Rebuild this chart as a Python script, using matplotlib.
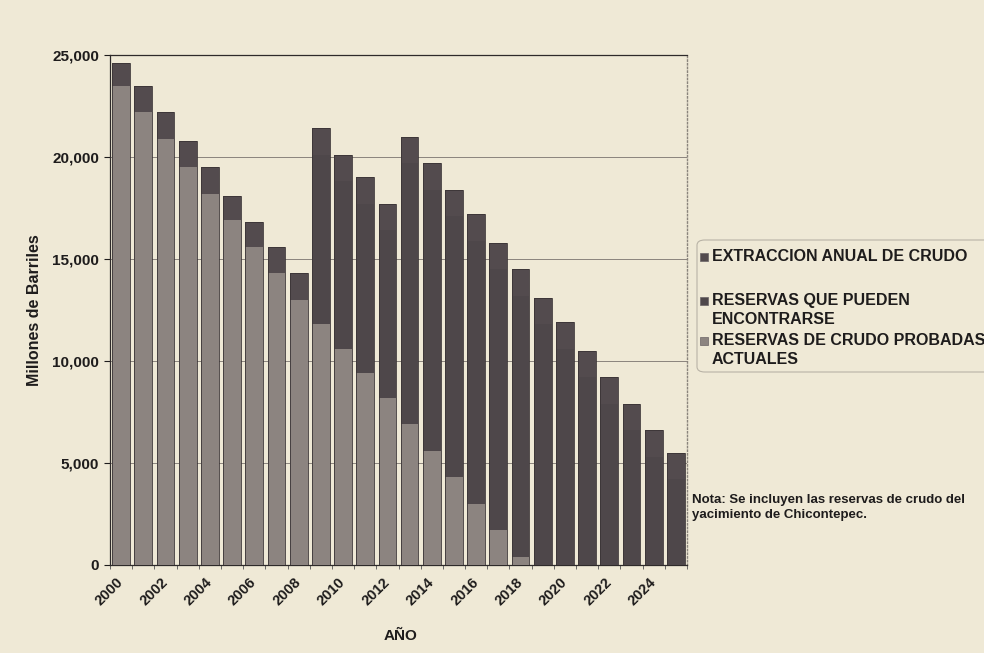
import matplotlib
matplotlib.use('Agg')
import matplotlib.pyplot as plt
from matplotlib.patches import FancyBboxPatch, Rectangle
from matplotlib.ticker import FuncFormatter
import numpy as np

plt.rcParams['font.family'] = ['Liberation Sans', 'DejaVu Sans']
plt.rcParams['font.weight'] = 'bold'

# millones de barriles por año
anios = list(range(2000, 2026))
probadas = [23500, 22200, 20900, 19500, 18200, 16900, 15600, 14300, 13000,
            11800, 10600, 9400, 8200, 6900, 5600, 4300, 3000, 1700, 400,
            0, 0, 0, 0, 0, 0, 0]
encontrarse = [0, 0, 0, 0, 0, 0, 0, 0, 0,
               8300, 8200, 8300, 8200, 12800, 12800, 12800, 12900, 12800, 12800,
               11800, 10600, 9200, 7900, 6600, 5300, 4200]
extraccion = [1100, 1300, 1300, 1300, 1300, 1200, 1200, 1300, 1300,
              1300, 1300, 1300, 1300, 1300, 1300, 1300, 1300, 1300, 1300,
              1300, 1300, 1300, 1300, 1300, 1300, 1300]

etiquetas = ['EXTRACCION ANUAL DE CRUDO',
             'RESERVAS QUE PUEDEN\nENCONTRARSE',
             'RESERVAS DE CRUDO PROBADAS\nACTUALES']
nota = 'Nota: Se incluyen las reservas de crudo del\nyacimiento de Chicontepec.'

fondo = '#efe9d6'
c_prob = '#8c8480'
c_enc = '#4e474a'
c_ext = '#534b4e'
borde = '#3a3436'
texto = '#1e1c1c'

W, H = 984, 653
fig = plt.figure(figsize=(W / 100, H / 100), dpi=100, facecolor=fondo)
ax = fig.add_axes([110 / W, 1 - 565 / H, 577 / W, 510 / H])
ax.set_facecolor(fondo)

x = np.arange(len(anios))
prob = np.array(probadas)
enc = np.array(encontrarse)
ext = np.array(extraccion)

ancho = 0.8
ax.bar(x, prob, width=ancho, color=c_prob, linewidth=0, zorder=3)
ax.bar(x, enc, bottom=prob, width=ancho, color=c_enc, linewidth=0, zorder=3)
ax.bar(x, ext, bottom=prob + enc, width=ancho, color=c_ext, linewidth=0, zorder=3)
# contorno de cada columna completa
ax.bar(x, prob + enc + ext, width=ancho, fill=False, edgecolor=borde,
       linewidth=0.6, zorder=4)

ax.set_xlim(-0.5, len(anios) - 0.5)
ax.set_ylim(0, 25000)
ax.set_yticks(range(0, 25001, 5000))
ax.yaxis.set_major_formatter(FuncFormatter(lambda v, p: '{:,.0f}'.format(v)))
ax.yaxis.grid(True, color='#7a736e', linewidth=0.6, zorder=0)
ax.tick_params(axis='y', length=4, width=0.8, pad=4, labelsize=11, colors=texto)

ax.set_xticks(x[::2])
ax.set_xticklabels([str(a) for a in anios[::2]], rotation=45, ha='right',
                   va='center', rotation_mode='anchor', fontsize=10.5, color=texto)
ax.set_xticks(np.arange(-0.5, len(anios), 1), minor=True)
ax.tick_params(axis='x', which='major', length=0, pad=11)
ax.tick_params(axis='x', which='minor', length=3, width=0.6, color='#555555')

for s in ['left', 'bottom', 'top']:
    ax.spines[s].set_color('#2e2a2a')
    ax.spines[s].set_linewidth(0.9)
ax.spines['right'].set_color('#8a847c')
ax.spines['right'].set_linestyle(':')
ax.spines['right'].set_linewidth(1.0)

fig.text(35 / W, 1 - 310 / H, 'Millones de Barriles', rotation=90,
         ha='center', va='center', fontsize=11.5, color=texto)
fig.text(401 / W, 1 - 636 / H, 'AÑO', ha='center', va='center',
         fontsize=11, color=texto)

# leyenda dibujada a mano (marcador en la primera línea)
caja = FancyBboxPatch((697 / W, 1 - 372 / H), 300 / W, 132 / H,
                      boxstyle='round,pad=0,rounding_size=0.008',
                      transform=fig.transFigure, facecolor=fondo,
                      edgecolor='#b9b3a6', linewidth=0.8)
fig.patches.append(caja)
colores = [c_ext, c_enc, c_prob]
filas = [257, 301, 341]
for lab, col, fy in zip(etiquetas, colores, filas):
    fig.patches.append(Rectangle((700 / W, 1 - (fy + 4) / H), 8 / W, 8 / H,
                                 transform=fig.transFigure, facecolor=col,
                                 edgecolor='#6a6466', linewidth=0.5))
    fig.text(712 / W, 1 - (fy - 8) / H, lab, ha='left', va='top',
             fontsize=11.5, linespacing=1.3, color=texto)

fig.text(692 / W, 1 - 494 / H, nota, ha='left', va='top', fontsize=9.5,
         linespacing=1.3, color=texto)

plt.savefig('out.png', dpi=100, facecolor=fondo)
